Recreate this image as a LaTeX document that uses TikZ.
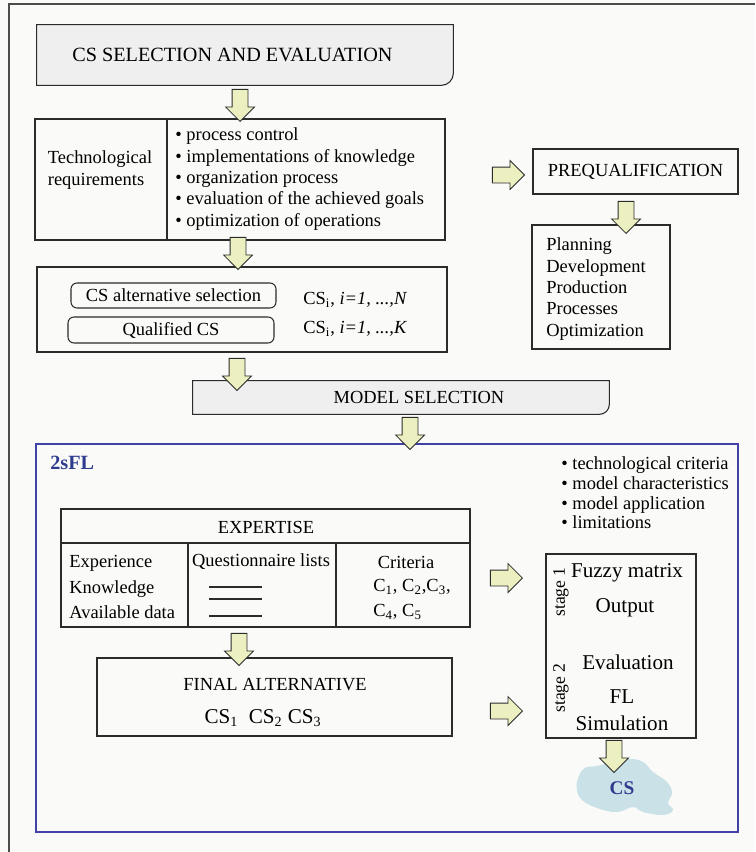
\documentclass[tikz,border=0pt]{standalone}
\usepackage{fontspec}
\setmainfont{Liberation Serif}
\usetikzlibrary{fit}
\usetikzlibrary{positioning}
\usetikzlibrary{shapes.arrows}
\definecolor{paper}{HTML}{FAFAF8}
\definecolor{boxgray}{HTML}{EFEFEF}
\definecolor{boxline}{HTML}{2B2B2B}
\definecolor{arrowfill}{HTML}{ECEFBF}
\definecolor{frameblue}{HTML}{4242A6}
\definecolor{textblue}{HTML}{2E3B8F}
\definecolor{cloudblue}{HTML}{C9E1E7}
\tikzset{
    fitbox/.style = {inner sep=0},
    box/.style = {draw=boxline,line width=0.6pt,inner sep=0},
    graybox/.style = {draw=boxline,fill=boxgray,line width=0.6pt},
    pill/.style = {box,rounded corners=0.12cm},
    lbl/.style = {inner sep=0,font=\fontsize{10.5}{12.2}\selectfont},
    biglbl/.style = {inner sep=0,font=\fontsize{12}{14}\selectfont},
    bluelbl/.style = {inner sep=0,font=\fontsize{11.5}{13}\selectfont\bfseries,text=textblue},
    blockarr/.style = {single arrow,draw=boxline,fill=arrowfill,line width=0.5pt,
        inner xsep=0,inner ysep=0.15cm,minimum height=0.64cm,
        single arrow head extend=0.13cm,anchor=tip}
}

\begin{document}
\begin{tikzpicture}[x=0.02cm,y=-0.02cm]
        % Paper
        \fill[paper] (0,0) rectangle (755,852);
        \useasboundingbox (0,0) rectangle (755,852);
        \draw[draw=black!70,line width=0.8pt] (9,852) -- (9,4) -- (755,4);
        % Selection part
        \node[fitbox,fit={(37,25) (453,85)}] (title) {};
        \draw[graybox] (title.north west) -- (title.north east)
            -- ([yshift=0.24cm]title.south east) arc[start angle=0,end angle=-90,radius=0.24cm]
            -- (title.south west) -- cycle;
        \node[lbl,font=\fontsize{11.5}{13}\selectfont,anchor=west] (titletxt) at (72,55) {CS SELECTION AND EVALUATION};
        \node[box,fit={(35,119) (445,240)}] (tech) {};
        \draw[box] (167,119) -- (167,240);
        \node[lbl,align=left] (techreq) at (100,170) {Technological\\requirements};
        \node[lbl,align=left,anchor=west] (techlist) at (175,179) {%
            \textbullet\ process control\\
            \textbullet\ implementations of knowledge\\
            \textbullet\ organization process\\
            \textbullet\ evaluation of the achieved goals\\
            \textbullet\ optimization of operations};
        \node[box,fit={(37,267) (447,352)}] (alt) {};
        \node[pill,fit={(71,283) (276,308)}] (altsel) {};
        \node[pill,fit={(68,317) (274,343)}] (qual) {};
        \node[lbl] (altseltxt) at (altsel.center) {CS alternative selection};
        \node[lbl] (qualtxt) at (qual.center) {Qualified CS};
        \node[lbl,anchor=west] (altn) at (303,300) {CS\textsubscript{i}, \textit{i=1, ...,N}};
        \node[lbl,anchor=west] (altk) at (303,329) {CS\textsubscript{i}, \textit{i=1, ...,K}};
        % Prequalification
        \node[box,fit={(533,149) (738,194)}] (prequal) {};
        \node[lbl] (prequaltxt) at (prequal.center) {PREQUALIFICATION};
        \node[box,fit={(532,225) (670,349)}] (plan) {};
        \node[lbl,align=left,anchor=west] (plantxt) at (546,289) {Planning\\Development\\Production\\Processes\\Optimization};
        % Model selection
        \node[fitbox,fit={(193,381) (609,414)}] (model) {};
        \draw[graybox] (model.north west) -- (model.north east)
            -- ([yshift=0.2cm]model.south east) arc[start angle=0,end angle=-90,radius=0.2cm]
            -- (model.south west) -- cycle;
        \node[lbl] (modeltxt) at (419,397) {MODEL SELECTION};
        % 2sFL frame
        \draw[draw=frameblue,line width=0.9pt] (36,444) rectangle (738,832);
        \node[bluelbl,anchor=west] (fl) at (50,463) {2sFL};
        \node[lbl,font=\fontsize{10.5}{11.2}\selectfont,align=left,anchor=west] (critlist) at (561,493) {%
            \textbullet\ technological criteria\\
            \textbullet\ model characteristics\\
            \textbullet\ model application\\
            \textbullet\ limitations};
        \node[box,fit={(61,509) (470,627)}] (expert) {};
        \draw[box] (61,543) -- (470,543);
        \draw[box] (188,543) -- (188,627);
        \draw[box] (336,543) -- (336,627);
        \node[lbl] (experttxt) at (266,527) {EXPERTISE};
        \node[lbl,font=\fontsize{10.5}{14.5}\selectfont,align=left,anchor=west] (sources) at (69,587) {Experience\\Knowledge\\Available data};
        \node[lbl] (quest) at (261,562) {Questionnaire lists};
        \foreach \ly in {587,599,616}
            \draw[box] (209,\ly) -- (262,\ly);
        \node[lbl] (crit) at (406,562) {Criteria};
        \node[lbl,anchor=west] (critc) at (373,587) {C\textsubscript{1}, C\textsubscript{2},C\textsubscript{3},};
        \node[lbl,anchor=west] (critd) at (373,612) {C\textsubscript{4}, C\textsubscript{5}};
        \node[box,fit={(97,658) (452,736)}] (final) {};
        \node[lbl] (finaltxt) at (275,685) {FINAL ALTERNATIVE};
        \node[biglbl] (finalcs) at (263,718) {CS\textsubscript{1}\ \ CS\textsubscript{2}\ CS\textsubscript{3}};
        \node[box,fit={(546,554) (696,738)}] (stage) {};
        \node[lbl,font=\fontsize{10}{12}\selectfont,rotate=90] (st1) at (561,592) {stage 1};
        \node[lbl,font=\fontsize{10}{12}\selectfont,rotate=90] (st2) at (561,688) {stage 2};
        \node[biglbl] (fuzzy) at (627,573) {Fuzzy matrix};
        \node[biglbl] (output) at (625,608) {Output};
        \node[biglbl] (evalu) at (628,662) {Evaluation};
        \node[biglbl] (fltxt) at (622,697) {FL};
        \node[biglbl] (simu) at (622,723) {Simulation};
        % Result
        \fill[cloudblue] plot[smooth cycle,tension=0.7] coordinates {
            (578,778) (585,768) (597,766) (613,762) (630,759) (643,762) (653,772)
            (667,782) (672,793) (668,803) (673,810) (663,815) (643,812) (633,807)
            (617,812) (597,808) (582,800) (577,790)};
        \node[bluelbl,font=\fontsize{11}{13}\selectfont\bfseries] (cs) at (622,788) {CS};
        % Block arrows
        \foreach \name/\tipx/\tipy/\rot in {a1/240/122/-90,a2/238/270/-90,a3/237/391/-90,a4/410/450/-90,
                a5/525/175/0,a6/626/234/-90,a7/523/578/0,a8/239/666/-90,a9/523/711/0,a10/614/773/-90}
            \node[blockarr,rotate=\rot] (\name) at (\tipx,\tipy) {};
\end{tikzpicture}
\end{document}
